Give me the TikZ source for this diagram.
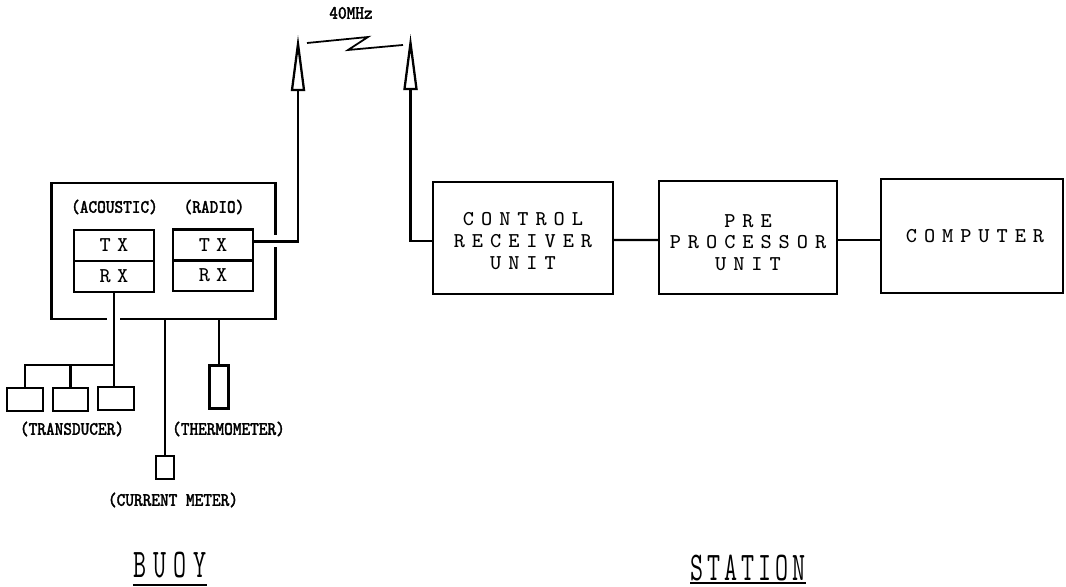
\documentclass[tikz,border=0pt]{standalone}
\usepackage{xcolor}
\usepackage{fontspec}
\usepackage{tikz}
\usetikzlibrary{arrows.meta, positioning}
\newfontfamily\boxfont[LetterSpace=33]{Latin Modern Mono}
\newfontfamily\txfont[LetterSpace=29]{Latin Modern Mono}
\newfontfamily\tagfont[FakeStretch=0.86,FakeBold=1.6]{Latin Modern Mono}
\newfontfamily\buoyfont[FakeStretch=0.62,LetterSpace=17]{Latin Modern Mono}
\newfontfamily\stationfont[FakeStretch=0.62,LetterSpace=9.5]{Latin Modern Mono}
\tikzset{
  unit/.style={draw, line width=0.65pt, inner sep=0pt, align=center, font=\boxfont\fontsize{6}{6.2}\selectfont},
  txrx/.style={draw, line width=0.65pt, inner sep=0pt, minimum width=0.8cm, minimum height=0.31cm, font=\txfont\fontsize{6}{6}\selectfont},
  sensor/.style={draw, line width=0.65pt, inner sep=0pt},
  tag/.style={inner sep=0pt, font=\tagfont\fontsize{5.4}{6}\selectfont},
  wire/.style={line width=0.65pt}
}
\begin{document}
\begin{tikzpicture}[>=Stealth]
  \useasboundingbox (0,0) rectangle (10.66,5.86);

  % Buoy housing, open where the wires pass
  \coordinate (gapr1) at (2.755,3.51);
  \coordinate (gapr2) at (2.755,3.39);
  \coordinate (gapb1) at (1.07,2.67);
  \coordinate (gapb2) at (1.20,2.67);
  \draw[wire] (gapr1) -- (2.755,4.03) -- (0.515,4.03) -- (0.515,2.67) -- (gapb1);
  \draw[wire] (gapb2) -- (2.755,2.67) -- (gapr2);
  \node[tag] (acoustic) at (1.145,3.79) {(ACOUSTIC)};
  \node[tag] (radio) at (2.14,3.79) {(RADIO)};

  % Transmitters and receivers
  \node[txrx] (txa) at (1.14,3.405) {TX};
  \node[txrx] (rxa) at (1.14,3.095) {RX};
  \node[txrx] (txr) at (2.13,3.41) {TX};
  \node[txrx] (rxr) at (2.13,3.105) {RX};

  % Transducers
  \node[sensor, minimum width=0.36cm, minimum height=0.23cm] (trans1) at (0.25,1.865) {};
  \node[sensor, minimum width=0.35cm, minimum height=0.23cm] (trans2) at (0.705,1.865) {};
  \node[sensor, minimum width=0.36cm, minimum height=0.23cm] (trans3) at (1.16,1.875) {};
  \coordinate (bus) at (1.14,2.21);
  \draw[wire] (rxa.south) -- (bus);
  \draw[wire] (bus) -| (trans1.north);
  \draw[wire] (trans2.north) -- (trans2.north |- bus);
  \draw[wire] (bus) -- (trans3.north -| bus);
  \node[tag] (transducer) at (0.72,1.57) {(TRANSDUCER)};

  % Current meter and thermometer
  \node[sensor, minimum width=0.18cm, minimum height=0.23cm] (meter) at (1.65,1.185) {};
  \draw[wire] (meter.north) -- (meter.north |- gapb1);
  \node[tag] (metertag) at (1.73,0.86) {(CURRENT METER)};
  \node[sensor, minimum width=0.19cm, minimum height=0.43cm] (thermo) at (2.19,1.99) {};
  \draw[wire] (thermo.north) -- (thermo.north |- gapb1);
  \node[tag] (thermotag) at (2.285,1.57) {(THERMOMETER)};

  % Antennas and radio link
  \coordinate (anta) at (2.98,4.96);
  \coordinate (antb) at (4.105,4.97);
  \draw[wire, fill=white] (2.98,5.42) -- ([xshift=0.06cm]anta) -- ([xshift=-0.06cm]anta) -- cycle;
  \draw[wire, fill=white] (4.105,5.43) -- ([xshift=0.06cm]antb) -- ([xshift=-0.06cm]antb) -- cycle;
  \coordinate (link1) at (3.07,5.43);
  \coordinate (link2) at (4.03,5.41);
  \draw[line width=0.5pt] (link1) -- (3.68,5.49) -- (3.48,5.36) -- (link2);
  \node[tag] (freq) at (3.51,5.73) {40MHz};

  % Station
  \node[unit, minimum width=1.80cm, minimum height=1.12cm] (control) at (5.23,3.48) {\rule{0pt}{5.4pt}CONTROL\\RECEIVER\\UNIT};
  \node[unit, minimum width=1.78cm, minimum height=1.13cm] (prep) at (7.48,3.485) {\rule{0pt}{6.5pt}PRE\\PROCESSOR\\UNIT};
  \node[unit, minimum width=1.82cm, minimum height=1.14cm] (computer) at (9.72,3.50) {\hspace*{0.06cm}COMPUTER};
  \draw[wire] ([yshift=-0.02cm]control.east) -- ([yshift=-0.025cm]prep.west);
  \draw[wire] ([yshift=-0.025cm]prep.east) -- ([yshift=-0.04cm]computer.west);

  % Wires to the antennas
  \draw[wire] ([yshift=0.035cm]txr.east) -| (anta);
  \draw[wire] ([yshift=-0.03cm]control.west) -| (antb);

  % Titles
  \node[inner sep=0pt, font=\buoyfont\fontsize{11.6}{12}\selectfont] (buoy) at (1.70,0.205) {BUOY};
  \node[inner sep=0pt, font=\stationfont\fontsize{11.6}{12}\selectfont] (station) at (7.48,0.185) {STATION};
  \draw[wire] ([yshift=-0.06cm]buoy.south west) -- ([yshift=-0.06cm]buoy.south east);
  \draw[wire] ([yshift=-0.02cm]station.south west) -- ([yshift=-0.02cm]station.south east);
\end{tikzpicture}
\end{document}
